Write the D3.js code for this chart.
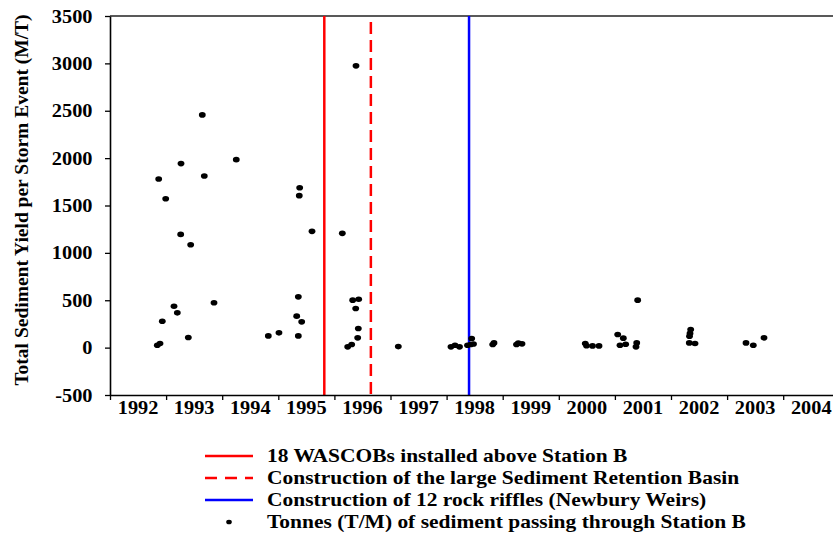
<!DOCTYPE html>
<html>
<head>
<meta charset="utf-8">
<script src="https://cdn.jsdelivr.net/npm/d3@7"></script>
<style>
    body { margin: 0; background: #fff; }
</style>
</head>
<body>
<div id="chart"></div>
<script>
// event date (decimal year) and sediment yield per storm event
let eventYear = [
    1992.843, 1992.891, 1992.868, 1992.932, 1992.993, 1993.141, 1993.200, 1993.266, 1993.260, 1993.396,
    1993.438, 1993.645, 1993.681, 1993.854, 1994.251, 1994.822, 1995.012, 1995.328, 1995.357, 1995.357,
    1995.374, 1995.381, 1995.417, 1995.601, 1996.141, 1996.237, 1996.308, 1996.326, 1996.433, 1996.380,
    1996.426, 1996.415, 1996.385, 1997.139, 1998.078, 1998.150, 1998.230, 1998.447, 1998.430, 1998.480,
    1998.373, 1998.822, 1998.845, 1999.246, 1999.278, 1999.344, 2000.472, 2000.494, 2000.601, 2000.717,
    2001.050, 2001.150, 2001.091, 2001.192, 2001.406, 2001.389, 2001.376, 2002.351, 2002.339, 2002.330,
    2002.326, 2002.428, 2003.337, 2003.467, 2003.658
];
let sedimentYield = [
    25, 43, 1780, 279, 1572, 437, 367, 1942, 1195, 107,
    1086, 2456, 1811, 473, 1984, 124, 156, 332, 536, 124,
    1604, 1688, 272, 1227, 1206, 8, 33, 501, 511, 413,
    202, 103, 2974, 11, 8, 25, 8, 96, 33, 38,
    25, 33, 50, 33, 47, 40, 43, 20, 18, 18,
    138, 100, 25, 36, 501, 50, 8, 191, 150, 120,
    50, 43, 50, 25, 103
];

let yearTicks = d3.range(1992, 2005);
let yTicks = [-500, 0, 500, 1000, 1500, 2000, 2500, 3000, 3500];

// construction events drawn as vertical lines
let eventLines = [
    {year: 1995.82, label: "18 WASCOBs installed above Station B", color: "#ff0000", dash: null},
    {year: 1996.65, label: "Construction of the large Sediment Retention Basin", color: "#ff0000", dash: "12,6"},
    {year: 1998.40, label: "Construction of 12 rock riffles (Newbury Weirs)", color: "#0000ff", dash: null}
];
let pointLabel = "Tonnes (T/M) of sediment passing through Station B";

let WIDTH = 833,
    HEIGHT = 536,
    LEFT = 110,
    TOP = 16,
    BOTTOM = 395,
    STRETCH = 1.13,
    FONT = '"Liberation Serif", "Times New Roman", serif';

let svg = d3.select('#chart')
    .append('svg')
    .attr('width', WIDTH)
    .attr('height', HEIGHT);

let x = d3.scaleLinear().domain([1992, 2005]).range([LEFT, LEFT + 13 * 56.1]);
let y = d3.scaleLinear().domain([-500, 3500]).range([BOTTOM, TOP]);

function serif(sel, size) {
    sel.style('font-family', FONT)
        .style('font-weight', 'bold')
        .style('font-size', size + 'px')
        .style('fill', '#000');
}

// top border
svg.append('line')
    .attr('x1', LEFT).attr('x2', WIDTH)
    .attr('y1', TOP).attr('y2', TOP)
    .attr('stroke', '#222')
    .attr('stroke-width', 1.5);

// vertical event lines
svg.selectAll('.event-line')
    .data(eventLines)
    .enter()
    .append('line')
    .classed('event-line', true)
    .attr('x1', d => x(d.year)).attr('x2', d => x(d.year))
    .attr('y1', d => d.dash ? TOP + 6 : TOP)
    .attr('y2', BOTTOM)
    .attr('stroke', d => d.color)
    .attr('stroke-width', 2.5)
    .attr('stroke-dasharray', d => d.dash);

// x axis: ticks at year boundaries, labels centred in each year
let xAxis = svg.append('g')
    .attr('transform', `translate(0,${BOTTOM})`)
    .call(d3.axisBottom(x).tickValues(yearTicks).tickFormat('').tickSizeInner(5).tickSizeOuter(0));
xAxis.select('.domain').attr('stroke', '#000').attr('stroke-width', 1.6);
xAxis.selectAll('.tick line').attr('stroke', '#000').attr('stroke-width', 1.3);

svg.append('g')
    .selectAll('text')
    .data(yearTicks)
    .enter()
    .append('text')
    .attr('transform', d => `translate(${x(d + 0.5)},${BOTTOM + 18.5}) scale(${STRETCH},1)`)
    .attr('text-anchor', 'middle')
    .call(serif, 18)
    .text(d => d);

// y axis
let yAxis = svg.append('g')
    .attr('transform', `translate(${LEFT},0)`)
    .call(d3.axisLeft(y).tickValues(yTicks).tickFormat(d => String(d))
        .tickSizeInner(5).tickSizeOuter(0).tickPadding(10.5));
yAxis.select('.domain').attr('stroke', '#000').attr('stroke-width', 1.6);
yAxis.selectAll('.tick line').attr('stroke', '#000').attr('stroke-width', 1.3);
yAxis.selectAll('.tick text')
    .attr('transform', `scale(${STRETCH},1)`)
    .attr('dy', '0.34em')
    .call(serif, 18);

svg.append('text')
    .attr('transform', 'translate(28,200) rotate(-90)')
    .attr('text-anchor', 'middle')
    .call(serif, 19.5)
    .text('Total Sediment Yield per Storm Event (M/T)');

// data points
svg.append('g')
    .selectAll('ellipse')
    .data(eventYear.map((t, i) => ({t: t, v: sedimentYield[i]})))
    .enter()
    .append('ellipse')
    .attr('cx', d => x(d.t))
    .attr('cy', d => y(d.v))
    .attr('rx', 3.4)
    .attr('ry', 2.8)
    .attr('fill', '#000');

// legend
let LEGEND_X = 205,
    LEGEND_Y = 456,
    ROW = 22;

let rows = svg.append('g')
    .selectAll('g')
    .data(eventLines.concat([{label: pointLabel, point: true}]))
    .enter()
    .append('g')
    .attr('transform', (d, i) => `translate(${LEGEND_X},${LEGEND_Y + i * ROW})`);

rows.filter(d => !d.point)
    .append('line')
    .attr('x1', 0).attr('x2', 48)
    .attr('stroke', d => d.color)
    .attr('stroke-width', 2.5)
    .attr('stroke-dasharray', d => d.dash ? '12,8' : null);

rows.filter(d => d.point)
    .append('ellipse')
    .attr('cx', 24)
    .attr('rx', 2.8)
    .attr('ry', 2.3)
    .attr('fill', '#000');

rows.append('text')
    .attr('transform', `translate(62,6) scale(${STRETCH},1)`)
    .call(serif, 19)
    .text(d => d.label);
</script>
</body>
</html>
